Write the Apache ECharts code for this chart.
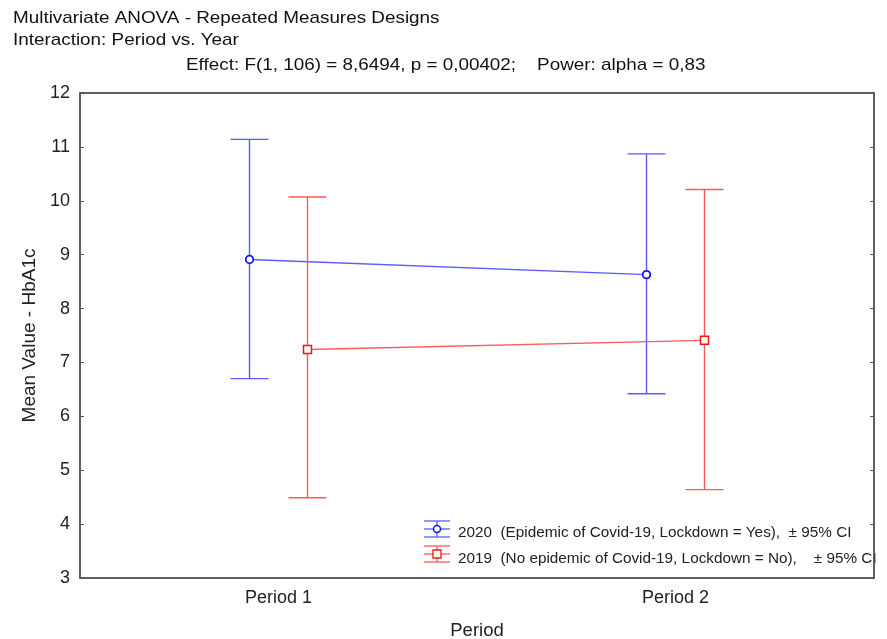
<!DOCTYPE html>
<html>
<head>
<meta charset="utf-8">
<script src="https://cdn.jsdelivr.net/npm/echarts@6/dist/echarts.min.js"></script>
<style>html,body{margin:0;padding:0;background:#fff;overflow:hidden;}#chart{width:887px;height:639px;}</style>
</head>
<body>
<div id="chart"></div>
<script>
// ---- data ----
var categories = ['Period 1', 'Period 2'];
var mean2020 = [8.91, 8.63];
var lower2020 = [6.70, 6.42];
var upper2020 = [11.14, 10.87];
var mean2019 = [7.24, 7.41];
var lower2019 = [4.49, 4.64];
var upper2019 = [10.07, 10.21];
var yTicks = [3, 4, 5, 6, 7, 8, 9, 10, 11, 12];
var titleLines = ['Multivariate ANOVA - Repeated Measures Designs', 'Interaction: Period vs. Year'];
var effectText = 'Effect: F(1, 106) = 8,6494, p = 0,00402;    Power: alpha = 0,83';
var legendTexts = ['2020  (Epidemic of Covid-19, Lockdown = Yes),  \u00b1 95% CI',
                   '2019  (No epidemic of Covid-19, Lockdown = No),    \u00b1 95% CI'];

var FONT = 'Liberation Sans, Arial, sans-serif';
var BLUE_LINE = '#5a5aff', BLUE_MARK = '#1414f0';
var RED_LINE = '#ff5a5a', RED_MARK = '#f01414';

function toData(means, lows, highs) {
  return means.map(function (m, i) { return [i, m, lows[i], highs[i]]; });
}

function makeRender(means, offset, lineColor, markColor, shape) {
  return function (params, api) {
    var i = params.dataIndex;
    var pm = api.coord([i, api.value(1)]);
    var pl = api.coord([i, api.value(2)]);
    var ph = api.coord([i, api.value(3)]);
    var x = pm[0] + offset;
    var cap = 19;
    var children = [];
    if (i < means.length - 1) {
      var pn = api.coord([i + 1, means[i + 1]]);
      children.push({ type: 'line', shape: { x1: x, y1: pm[1], x2: pn[0] + offset, y2: pn[1] },
        style: { stroke: lineColor, lineWidth: 1.4 } });
    }
    children.push({ type: 'line', shape: { x1: x, y1: ph[1], x2: x, y2: pl[1] }, style: { stroke: lineColor, lineWidth: 1.4 } });
    children.push({ type: 'line', shape: { x1: x - cap, y1: ph[1], x2: x + cap, y2: ph[1] }, style: { stroke: lineColor, lineWidth: 1.4 } });
    children.push({ type: 'line', shape: { x1: x - cap, y1: pl[1], x2: x + cap, y2: pl[1] }, style: { stroke: lineColor, lineWidth: 1.4 } });
    if (shape === 'circle') {
      children.push({ type: 'circle', shape: { cx: x, cy: pm[1], r: 3.8 }, style: { fill: '#fff', stroke: markColor, lineWidth: 1.8 } });
    } else {
      children.push({ type: 'rect', shape: { x: x - 4, y: pm[1] - 4, width: 8, height: 8 }, style: { fill: '#fff', stroke: markColor, lineWidth: 1.5 } });
    }
    return { type: 'group', children: children };
  };
}

function legendIcon(cx, cy, lineColor, markColor, shape) {
  var ch = [
    { type: 'line', shape: { x1: cx, y1: cy - 8, x2: cx, y2: cy + 8 }, style: { stroke: lineColor, lineWidth: 1.3 } },
    { type: 'line', shape: { x1: cx - 13, y1: cy - 8, x2: cx + 13, y2: cy - 8 }, style: { stroke: lineColor, lineWidth: 1.3 } },
    { type: 'line', shape: { x1: cx - 13, y1: cy + 8, x2: cx + 13, y2: cy + 8 }, style: { stroke: lineColor, lineWidth: 1.3 } },
    { type: 'line', shape: { x1: cx - 13, y1: cy, x2: cx + 13, y2: cy }, style: { stroke: lineColor, lineWidth: 1.3 } }
  ];
  if (shape === 'circle') ch.push({ type: 'circle', shape: { cx: cx, cy: cy, r: 3.5 }, style: { fill: '#fff', stroke: markColor, lineWidth: 1.5 } });
  else ch.push({ type: 'rect', shape: { x: cx - 4, y: cy - 4, width: 8, height: 8 }, style: { fill: '#fff', stroke: markColor, lineWidth: 1.3 } });
  return { type: 'group', children: ch };
}

function titleText(str, x, y) {
  return { type: 'text', x: x, y: y, scaleX: 1.11, originX: 0, originY: 0,
    style: { text: str, font: '17px ' + FONT, fill: '#111', align: 'left', verticalAlign: 'middle' } };
}

var chart = echarts.init(document.getElementById('chart'), null, { renderer: 'canvas' });
var axisLineStyle = { color: '#555', width: 1.5 };
var option = {
  animation: false,
  backgroundColor: '#fff',
  grid: { left: 80, top: 93, width: 794, height: 485, show: true, borderColor: '#555', borderWidth: 1.5,
          backgroundColor: '#fff', containLabel: false, outerBoundsMode: 'none' },
  xAxis: [
    { type: 'category', data: categories, boundaryGap: true, position: 'bottom',
      name: 'Period', nameLocation: 'middle', nameGap: 43,
      nameTextStyle: { fontFamily: FONT, fontSize: 18.5, color: '#222' },
      axisLine: { lineStyle: axisLineStyle },
      axisTick: { inside: true, alignWithLabel: true, length: 4, lineStyle: { color: '#555' } },
      axisLabel: { fontFamily: FONT, fontSize: 18, color: '#222', margin: 11 } },
    { type: 'category', data: categories, boundaryGap: true, position: 'top',
      axisLine: { lineStyle: axisLineStyle },
      axisTick: { inside: true, alignWithLabel: true, length: 4, lineStyle: { color: '#555' } },
      axisLabel: { show: false } }
  ],
  yAxis: [
    { type: 'value', min: yTicks[0], max: yTicks[yTicks.length - 1], interval: 1, position: 'left',
      name: 'Mean Value - HbA1c', nameLocation: 'middle', nameGap: 40,
      nameTextStyle: { fontFamily: FONT, fontSize: 19, color: '#222' },
      axisLine: { show: true, lineStyle: axisLineStyle },
      axisTick: { show: true, inside: true, length: 4, lineStyle: { color: '#555' } },
      splitLine: { show: false },
      axisLabel: { fontFamily: FONT, fontSize: 18, color: '#222', margin: 10 } },
    { type: 'value', min: yTicks[0], max: yTicks[yTicks.length - 1], interval: 1, position: 'right',
      axisLine: { show: true, lineStyle: axisLineStyle },
      axisTick: { show: true, inside: true, length: 4, lineStyle: { color: '#555' } },
      splitLine: { show: false },
      axisLabel: { show: false } }
  ],
  series: [
    { type: 'custom', name: '2020', xAxisIndex: 0, yAxisIndex: 0, clip: false,
      data: toData(mean2020, lower2020, upper2020),
      renderItem: makeRender(mean2020, -29, BLUE_LINE, BLUE_MARK, 'circle') },
    { type: 'custom', name: '2019', xAxisIndex: 0, yAxisIndex: 0, clip: false,
      data: toData(mean2019, lower2019, upper2019),
      renderItem: makeRender(mean2019, 29, RED_LINE, RED_MARK, 'rect') }
  ],
  graphic: [
    titleText(titleLines[0], 13, 18),
    titleText(titleLines[1], 13, 40),
    titleText(effectText, 186, 65),
    legendIcon(437, 529, BLUE_LINE, BLUE_MARK, 'circle'),
    legendIcon(437, 554, RED_LINE, RED_MARK, 'rect'),
    { type: 'text', x: 458, y: 533, style: { text: legendTexts[0], font: '15.3px ' + FONT, fill: '#222', align: 'left', verticalAlign: 'middle' } },
    { type: 'text', x: 458, y: 559, style: { text: legendTexts[1], font: '15.3px ' + FONT, fill: '#222', align: 'left', verticalAlign: 'middle' } }
  ]
};
chart.setOption(option);
</script>
</body>
</html>
